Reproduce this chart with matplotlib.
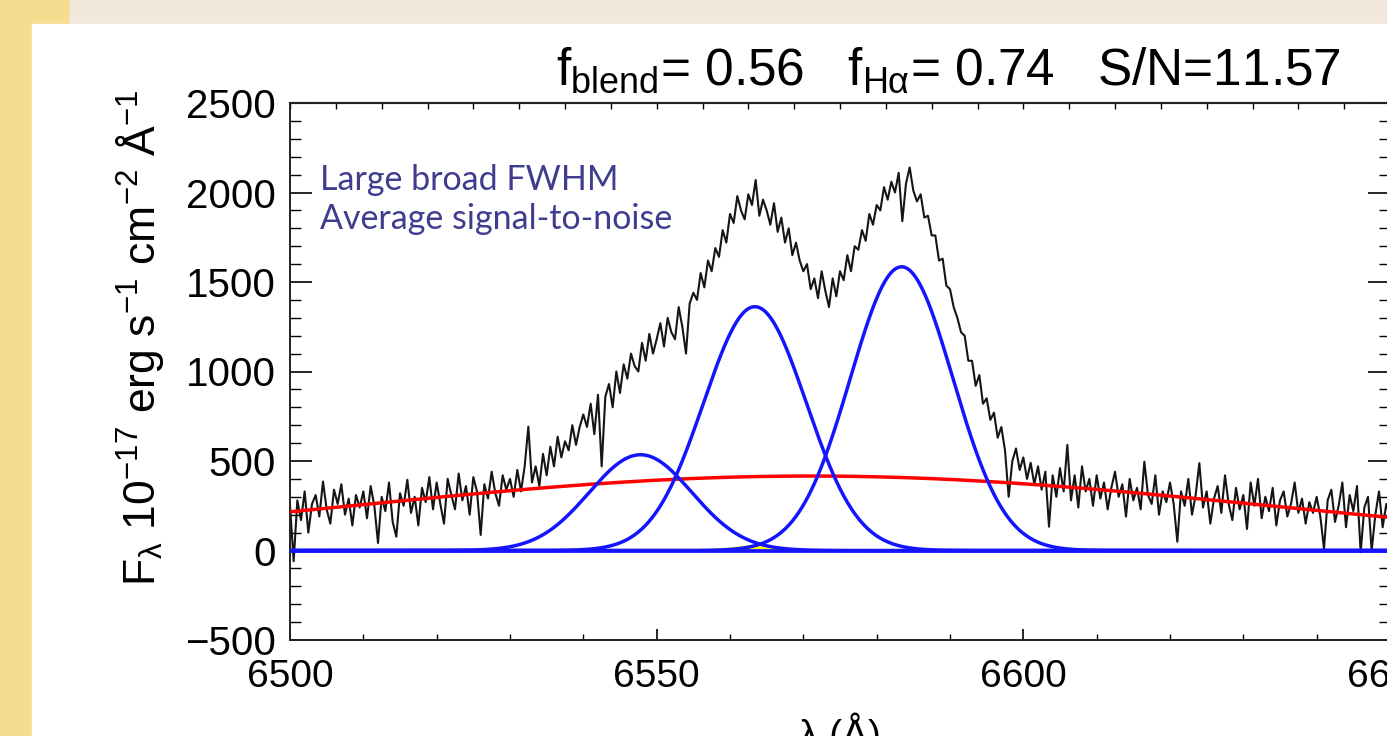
import numpy as np
import matplotlib
matplotlib.use("Agg")
from matplotlib import pyplot as plt
from matplotlib.patches import Rectangle
from matplotlib.ticker import MultipleLocator

# observed spectrum, 0.5 A sampling starting at 6500 A
wave_start = 6500.0
wave_step = 0.5
flux = [
    250, -60, 280, 170, 330, 100, 260, 310, 190, 385, 230, 150, 340, 260, 370, 200, 290, 140, 310, 240,
    330, 180, 360, 250, 42, 300, 220, 380, 160, 77, 320, 250, 395, 210, 300, 140, 350, 270, 410, 230,
    380, 260, 150, 400, 310, 230, 430, 280, 360, 200, 410, 330, 87, 370, 290, 440, 320, 250, 420, 340,
    400, 300, 450, 330, 470, 692, 380, 470, 360, 540, 420, 580, 470, 636, 520, 610, 560, 700, 590, 690,
    760, 690, 820, 650, 870, 470, 860, 930, 800, 1000, 880, 1040, 960, 1100, 1030, 1000, 1160, 1060, 1210, 1100,
    1180, 1270, 1140, 1300, 1220, 1180, 1360, 1250, 1100, 1380, 1440, 1400, 1550, 1470, 1620, 1560, 1690, 1640, 1790, 1720,
    1880, 1830, 1980, 1900, 1850, 1990, 1930, 2070, 1870, 1960, 1900, 1820, 1940, 1780, 1860, 1720, 1800, 1650, 1720, 1620,
    1560, 1600, 1460, 1520, 1410, 1560, 1450, 1360, 1520, 1420, 1560, 1510, 1650, 1560, 1700, 1680, 1790, 1730, 1880, 1820,
    1930, 1900, 2030, 1960, 2060, 2000, 2110, 1840, 2050, 2140, 2010, 1950, 1990, 1860, 1870, 1760, 1760, 1620, 1630, 1480,
    1460, 1360, 1300, 1220, 1200, 1060, 1060, 920, 980, 820, 850, 730, 770, 630, 690, 560, 300, 500, 570, 450,
    520, 400, 490, 370, 470, 340, 440, 133, 420, 300, 460, 330, 590, 280, 420, 240, 470, 330, 400, 250,
    420, 290, 380, 230, 350, 440, 300, 370, 190, 400, 280, 350, 230, 496, 310, 260, 420, 200, 330, 270,
    380, 260, 49, 330, 250, 400, 200, 310, 488, 240, 330, 150, 290, 360, 210, 420, 260, 170, 350, 230,
    310, 120, 380, 250, 400, 180, 300, 220, 350, 140, 280, 330, 190, 260, 380, 210, 290, 150, 270, 210,
    300, 190, 10, 280, 340, 160, 250, 380, 130, 310, 220, 360, -10, 240, 300, 0, 200, 330, 130, 260,
    190,
]

# fitted broad components: [NII 6548, Halpha, NII 6583]
line_centre = [6547.8, 6563.4, 6583.4]
line_amp = [535.0, 1362.0, 1585.0]
line_sigma = [7.0, 7.0, 7.0]

# very broad component
broad_centre = 6571.0
broad_amp = 416.0
broad_sigma = 62.0

# narrow Halpha
narrow_centre = 6563.4
narrow_amp = 22.0
narrow_sigma = 2.5

f_blend = 0.56
f_halpha = 0.74
snr = 11.57


def gauss(x, a, c, s):
    return a * np.exp(-(x - c) ** 2 / (2 * s ** 2))


plt.rcParams["font.family"] = ["Liberation Sans", "DejaVu Sans"]
plt.rcParams["mathtext.fontset"] = "custom"
plt.rcParams["mathtext.rm"] = "Liberation Sans"
plt.rcParams["mathtext.it"] = "Liberation Sans:italic"

W, H = 1387, 736
fig = plt.figure(figsize=(W / 100, H / 100), dpi=100)
fig.patch.set_facecolor("#f1e8d9")

# slide decoration behind the plot
fig.patches.append(Rectangle((0, 0), 68 / W, 1, transform=fig.transFigure,
                             color="#f5dc8e", zorder=-2))
fig.patches.append(Rectangle((32 / W, 0), 1, (H - 24) / H, transform=fig.transFigure,
                             color="white", zorder=-1))

ax = fig.add_axes([290 / W, (H - 640) / H, 1100 / W, 537 / H])
ax.set_zorder(1)
ax.set_facecolor("white")

wave = wave_start + wave_step * np.arange(len(flux))
ax.plot(wave, flux, color="#151515", lw=1.5, zorder=2)

xx = np.linspace(6500, 6650, 2000)
narrow = gauss(xx, narrow_amp, narrow_centre, narrow_sigma)
ax.fill_between(xx, 0, narrow, color="#ffff00", lw=0, zorder=3)
ax.plot(xx, narrow, color="#ffff00", lw=2.2, zorder=3)
ax.plot(xx, gauss(xx, broad_amp, broad_centre, broad_sigma), color="#ff0000", lw=2.5, zorder=4)
for a, c, s in zip(line_amp, line_centre, line_sigma):
    ax.plot(xx, gauss(xx, a, c, s), color="#1414ff", lw=2.5, zorder=5)
ax.axhline(0, color="#1414ff", lw=2.7, zorder=5)

ax.set_xlim(6500, 6650)
ax.set_ylim(-500, 2500)
ax.xaxis.set_major_locator(MultipleLocator(50))
ax.xaxis.set_minor_locator(MultipleLocator(10))
ax.yaxis.set_major_locator(MultipleLocator(500))
ax.yaxis.set_minor_locator(MultipleLocator(100))
ax.tick_params(axis="x", which="major", direction="in", length=8, width=1.2,
               labelsize=28, pad=14, top=False)
ax.tick_params(axis="x", which="minor", direction="in", length=4, width=1.0, top=False)
ax.tick_params(axis="y", which="major", direction="in", length=16, width=1.2,
               labelsize=29, pad=10, right=True)
ax.tick_params(axis="y", which="minor", direction="in", length=8, width=1.0, right=True)

top = ax.secondary_xaxis("top")
top.set_xticks(np.arange(6500, 6651, 6.25))
top.tick_params(direction="in", length=4, width=1.0, labeltop=False)
top.spines["top"].set_linewidth(1.6)
top.spines["top"].set_color("#555555")

for sp in ax.spines.values():
    sp.set_linewidth(1.4)
    sp.set_color("#222222")

fig.text(140 / W, (H - 338) / H,
         r"$\mathrm{F_{\lambda}\ 10^{-17}\ erg\ s^{-1}\ cm^{-2}\ \AA^{-1}}$",
         rotation=90, ha="center", va="center", fontsize=32)
fig.text(840 / W, (H - 712) / H, r"λ (Å)", ha="center", va="top", fontsize=28)

title = (r"$\mathrm{f_{blend}}$= " + f"{f_blend:.2f}" + "   "
         + r"$\mathrm{f_{H\alpha}}$= " + f"{f_halpha:.2f}" + "   "
         + f"S/N={snr:.2f}")
fig.text(1340 / W, (H - 85) / H, title, ha="right", va="baseline", fontsize=37)

fig.text(320 / W, (H - 229) / H, "Large broad FWHM\nAverage signal-to-noise",
         ha="left", va="baseline", fontsize=24.5, family=["Lato", "DejaVu Sans"],
         color="#403d8f", linespacing=1.28, zorder=6)

fig.savefig("out.png", dpi=100)
